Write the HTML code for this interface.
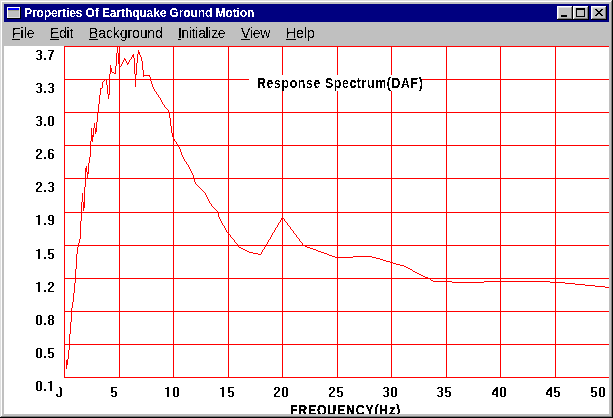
<!DOCTYPE html>
<html><head><meta charset="utf-8">
<style>
html,body{margin:0;padding:0;width:613px;height:418px;overflow:hidden;background:#c0c0c0;}
body{position:relative;font-family:"Liberation Sans",sans-serif;}
.a{position:absolute;}
.t{position:absolute;white-space:nowrap;line-height:1;}
.menu{font-size:14px;color:#000;top:26px;filter:url(#crisp2);}
.menu u{text-decoration:none;border-bottom:1px solid #000;}
.lb{letter-spacing:1.3px;transform:scaleX(0.88);transform-origin:0 0;}
.btn{position:absolute;top:6px;width:16px;height:14px;background:#c0c0c0;}
</style></head><body>
<svg width="0" height="0" style="position:absolute"><filter id="crisp" x="-20%" y="-50%" width="140%" height="200%"><feComponentTransfer><feFuncA type="discrete" tableValues="0 1 1"/></feComponentTransfer></filter><filter id="crisp2" x="-20%" y="-50%" width="140%" height="200%"><feComponentTransfer><feFuncA type="discrete" tableValues="0 1"/></feComponentTransfer></filter><filter id="crisp3" x="-20%" y="-50%" width="140%" height="200%"><feComponentTransfer><feFuncA type="discrete" tableValues="0 1 1 1"/></feComponentTransfer></filter></svg>
<!-- window frame -->
<div class="a" style="left:0;top:0;width:612px;height:1px;background:#dfdfdf"></div>
<div class="a" style="left:0;top:0;width:1px;height:417px;background:#dfdfdf"></div>
<div class="a" style="left:1px;top:1px;width:610px;height:1px;background:#fff"></div>
<div class="a" style="left:1px;top:1px;width:1px;height:415px;background:#fff"></div>
<div class="a" style="left:612px;top:0;width:1px;height:418px;background:#000"></div>
<div class="a" style="left:0;top:417px;width:613px;height:1px;background:#000"></div>
<div class="a" style="left:611px;top:1px;width:1px;height:416px;background:#808080"></div>
<div class="a" style="left:1px;top:416px;width:611px;height:1px;background:#808080"></div>

<!-- title bar -->
<div class="a" style="left:4px;top:4px;width:605px;height:18px;background:#000080"></div>
<!-- icon -->
<div class="a" style="left:7px;top:7px;width:14px;height:12px;background:#000"></div>
<div class="a" style="left:7px;top:7px;width:13px;height:11px;background:#fff"></div>
<div class="a" style="left:8px;top:8px;width:12px;height:10px;background:#dfdfdf"></div>
<div class="a" style="left:8px;top:8px;width:11px;height:9px;background:#c0c0c0"></div>
<div class="a" style="left:8px;top:8px;width:11px;height:2px;background:#0000ff"></div>
<div class="a" style="left:8px;top:10px;width:11px;height:1px;background:#a4a48c"></div>
<div class="t" style="left:24px;top:7px;font-size:12px;font-weight:bold;color:#fff;letter-spacing:-0.1px;filter:url(#crisp2)">Properties Of Earthquake Ground Motion</div>

<!-- caption buttons -->
<div class="btn" style="left:557px;background:#000"></div>
<div class="btn" style="left:557px;width:15px;height:13px;background:#fff"></div>
<div class="btn" style="left:558px;top:7px;width:14px;height:12px;background:#808080"></div>
<div class="btn" style="left:558px;top:7px;width:13px;height:11px;background:#dfdfdf"></div>
<div class="btn" style="left:559px;top:8px;width:12px;height:10px;background:#c0c0c0"></div>
<div class="a" style="left:561px;top:15px;width:6px;height:2px;background:#000"></div>

<div class="btn" style="left:573px;background:#000"></div>
<div class="btn" style="left:573px;width:15px;height:13px;background:#fff"></div>
<div class="btn" style="left:574px;top:7px;width:14px;height:12px;background:#808080"></div>
<div class="btn" style="left:574px;top:7px;width:13px;height:11px;background:#dfdfdf"></div>
<div class="btn" style="left:575px;top:8px;width:12px;height:10px;background:#c0c0c0"></div>
<div class="a" style="left:576px;top:8px;width:7px;height:6px;border:1px solid #000;border-top-width:2px"></div>

<div class="btn" style="left:591px;background:#000"></div>
<div class="btn" style="left:591px;width:15px;height:13px;background:#fff"></div>
<div class="btn" style="left:592px;top:7px;width:14px;height:12px;background:#808080"></div>
<div class="btn" style="left:592px;top:7px;width:13px;height:11px;background:#dfdfdf"></div>
<div class="btn" style="left:593px;top:8px;width:12px;height:10px;background:#c0c0c0"></div>
<svg class="a" style="left:595px;top:9px" width="8" height="7" shape-rendering="crispEdges">
<path d="M0 0h2v1h-2zM6 0h2v1h-2zM1 1h2v1h-2zM5 1h2v1h-2zM2 2h4v1h-4zM3 3h2v1h-2zM2 4h4v1h-4zM1 5h2v1h-2zM5 5h2v1h-2zM0 6h2v1h-2zM6 6h2v1h-2z" fill="#000"/>
</svg>

<!-- menu -->
<div class="t menu" style="left:12px">File</div>
<div class="t menu" style="left:50px;letter-spacing:-0.25px">Edit</div>
<div class="t menu" style="left:89px;letter-spacing:-0.1px">Background</div>
<div class="t menu" style="left:178px;letter-spacing:-0.33px">Initialize</div>
<div class="t menu" style="left:241px;letter-spacing:-0.25px">View</div>
<div class="t menu" style="left:286px">Help</div>
<div class="a" style="left:12px;top:39px;width:8px;height:1px;background:#000"></div>
<div class="a" style="left:50px;top:39px;width:9px;height:1px;background:#000"></div>
<div class="a" style="left:89px;top:39px;width:9px;height:1px;background:#000"></div>
<div class="a" style="left:178px;top:39px;width:3px;height:1px;background:#000"></div>
<div class="a" style="left:241px;top:39px;width:9px;height:1px;background:#000"></div>
<div class="a" style="left:286px;top:39px;width:10px;height:1px;background:#000"></div>

<!-- client -->
<div class="a" style="left:4px;top:46px;width:605px;height:368px;background:#fff;overflow:hidden">
<div class="a" style="left:-4px;top:-46px;width:613px;height:418px">
<svg class="a" style="left:0;top:0" width="613" height="418" shape-rendering="crispEdges">
<g fill="#ff0000">
<rect x="64" y="46" width="1" height="332"/>
<rect x="119" y="46" width="1" height="332"/>
<rect x="173" y="46" width="1" height="332"/>
<rect x="228" y="46" width="1" height="332"/>
<rect x="282" y="46" width="1" height="332"/>
<rect x="337" y="46" width="1" height="332"/>
<rect x="391" y="46" width="1" height="332"/>
<rect x="446" y="46" width="1" height="332"/>
<rect x="500" y="46" width="1" height="332"/>
<rect x="555" y="46" width="1" height="332"/>
<rect x="609" y="46" width="1" height="332"/>
<rect x="64" y="46" width="546" height="1"/>
<rect x="64" y="79" width="546" height="1"/>
<rect x="64" y="112" width="546" height="1"/>
<rect x="64" y="145" width="546" height="1"/>
<rect x="64" y="178" width="546" height="1"/>
<rect x="64" y="212" width="546" height="1"/>
<rect x="64" y="245" width="546" height="1"/>
<rect x="64" y="278" width="546" height="1"/>
<rect x="64" y="311" width="546" height="1"/>
<rect x="64" y="344" width="546" height="1"/>
<rect x="64" y="377" width="546" height="1"/>
</g>
<path id="curve" fill="#ff0000" d="M117 45h1v1h-1zM117 46h1v1h-1zM117 47h1v1h-1zM117 48h1v1h-1zM117 49h1v1h-1zM117 50h1v1h-1zM138 50h1v1h-1zM117 51h1v1h-1zM138 51h1v1h-1zM117 52h1v1h-1zM138 52h2v1h-2zM116 53h1v1h-1zM118 53h1v1h-1zM138 53h2v1h-2zM116 54h1v1h-1zM118 54h1v1h-1zM133 54h1v1h-1zM137 54h1v1h-1zM139 54h1v1h-1zM116 55h1v1h-1zM118 55h1v1h-1zM132 55h2v1h-2zM137 55h1v1h-1zM140 55h1v1h-1zM116 56h1v1h-1zM118 56h1v1h-1zM132 56h2v1h-2zM137 56h1v1h-1zM140 56h1v1h-1zM116 57h1v1h-1zM118 57h1v1h-1zM131 57h1v1h-1zM133 57h1v1h-1zM137 57h1v1h-1zM141 57h1v1h-1zM116 58h1v1h-1zM118 58h1v1h-1zM124 58h1v1h-1zM131 58h1v1h-1zM134 58h1v1h-1zM137 58h1v1h-1zM141 58h1v1h-1zM116 59h1v1h-1zM118 59h1v1h-1zM124 59h2v1h-2zM130 59h1v1h-1zM134 59h1v1h-1zM137 59h1v1h-1zM141 59h1v1h-1zM116 60h1v1h-1zM118 60h1v1h-1zM123 60h1v1h-1zM125 60h1v1h-1zM129 60h1v1h-1zM134 60h1v1h-1zM137 60h1v1h-1zM141 60h1v1h-1zM116 61h1v1h-1zM118 61h1v1h-1zM123 61h1v1h-1zM126 61h1v1h-1zM129 61h1v1h-1zM134 61h1v1h-1zM137 61h1v1h-1zM142 61h1v1h-1zM116 62h1v1h-1zM118 62h1v1h-1zM122 62h1v1h-1zM126 62h1v1h-1zM128 62h1v1h-1zM134 62h1v1h-1zM137 62h1v1h-1zM142 62h1v1h-1zM116 63h1v1h-1zM118 63h1v1h-1zM122 63h1v1h-1zM127 63h2v1h-2zM134 63h1v1h-1zM136 63h1v1h-1zM142 63h1v1h-1zM116 64h1v1h-1zM119 64h1v1h-1zM121 64h1v1h-1zM127 64h1v1h-1zM134 64h1v1h-1zM136 64h1v1h-1zM142 64h1v1h-1zM110 65h1v1h-1zM116 65h1v1h-1zM119 65h1v1h-1zM121 65h1v1h-1zM134 65h1v1h-1zM136 65h1v1h-1zM142 65h1v1h-1zM110 66h1v1h-1zM115 66h1v1h-1zM119 66h2v1h-2zM134 66h1v1h-1zM136 66h1v1h-1zM142 66h1v1h-1zM110 67h1v1h-1zM115 67h1v1h-1zM134 67h1v1h-1zM136 67h1v1h-1zM142 67h1v1h-1zM110 68h2v1h-2zM115 68h1v1h-1zM134 68h1v1h-1zM136 68h1v1h-1zM142 68h1v1h-1zM110 69h2v1h-2zM115 69h1v1h-1zM134 69h1v1h-1zM136 69h1v1h-1zM142 69h1v1h-1zM110 70h2v1h-2zM115 70h1v1h-1zM134 70h1v1h-1zM136 70h1v1h-1zM143 70h1v1h-1zM110 71h2v1h-2zM115 71h1v1h-1zM134 71h1v1h-1zM136 71h1v1h-1zM143 71h1v1h-1zM110 72h1v1h-1zM112 72h2v1h-2zM115 72h1v1h-1zM134 72h1v1h-1zM136 72h1v1h-1zM143 72h1v1h-1zM110 73h1v1h-1zM114 73h2v1h-2zM134 73h1v1h-1zM136 73h1v1h-1zM143 73h1v1h-1zM109 74h1v1h-1zM135 74h2v1h-2zM143 74h1v1h-1zM109 75h1v1h-1zM135 75h1v1h-1zM143 75h7v1h-7zM109 76h1v1h-1zM135 76h1v1h-1zM143 76h1v1h-1zM149 76h1v1h-1zM109 77h1v1h-1zM135 77h1v1h-1zM150 77h1v1h-1zM109 78h1v1h-1zM135 78h1v1h-1zM150 78h1v1h-1zM105 79h1v1h-1zM109 79h1v1h-1zM135 79h1v1h-1zM150 79h1v1h-1zM104 80h1v1h-1zM106 80h1v1h-1zM109 80h1v1h-1zM135 80h1v1h-1zM150 80h1v1h-1zM103 81h1v1h-1zM106 81h1v1h-1zM109 81h1v1h-1zM135 81h1v1h-1zM151 81h1v1h-1zM102 82h1v1h-1zM106 82h1v1h-1zM109 82h1v1h-1zM135 82h1v1h-1zM151 82h1v1h-1zM102 83h1v1h-1zM106 83h1v1h-1zM109 83h1v1h-1zM135 83h1v1h-1zM151 83h1v1h-1zM102 84h1v1h-1zM106 84h1v1h-1zM109 84h1v1h-1zM135 84h1v1h-1zM152 84h1v1h-1zM102 85h1v1h-1zM107 85h1v1h-1zM109 85h1v1h-1zM135 85h1v1h-1zM152 85h1v1h-1zM102 86h1v1h-1zM107 86h1v1h-1zM109 86h1v1h-1zM135 86h1v1h-1zM152 86h1v1h-1zM102 87h1v1h-1zM107 87h1v1h-1zM109 87h1v1h-1zM153 87h1v1h-1zM100 88h2v1h-2zM107 88h1v1h-1zM109 88h1v1h-1zM153 88h1v1h-1zM100 89h1v1h-1zM107 89h1v1h-1zM109 89h1v1h-1zM154 89h1v1h-1zM100 90h1v1h-1zM107 90h1v1h-1zM109 90h1v1h-1zM154 90h1v1h-1zM100 91h1v1h-1zM107 91h1v1h-1zM109 91h1v1h-1zM155 91h1v1h-1zM100 92h1v1h-1zM107 92h1v1h-1zM109 92h1v1h-1zM156 92h1v1h-1zM100 93h1v1h-1zM107 93h1v1h-1zM109 93h1v1h-1zM156 93h1v1h-1zM100 94h1v1h-1zM108 94h2v1h-2zM157 94h1v1h-1zM99 95h1v1h-1zM108 95h1v1h-1zM158 95h1v1h-1zM99 96h1v1h-1zM108 96h1v1h-1zM158 96h1v1h-1zM99 97h1v1h-1zM108 97h1v1h-1zM159 97h1v1h-1zM99 98h1v1h-1zM108 98h1v1h-1zM160 98h1v1h-1zM99 99h1v1h-1zM160 99h1v1h-1zM99 100h1v1h-1zM161 100h1v1h-1zM99 101h1v1h-1zM161 101h1v1h-1zM99 102h1v1h-1zM162 102h1v1h-1zM99 103h1v1h-1zM162 103h1v1h-1zM98 104h1v1h-1zM163 104h1v1h-1zM98 105h1v1h-1zM164 105h1v1h-1zM98 106h1v1h-1zM164 106h1v1h-1zM98 107h1v1h-1zM165 107h1v1h-1zM98 108h1v1h-1zM166 108h1v1h-1zM98 109h1v1h-1zM167 109h1v1h-1zM98 110h1v1h-1zM168 110h1v1h-1zM98 111h1v1h-1zM168 111h1v1h-1zM98 112h1v1h-1zM169 112h1v1h-1zM97 113h1v1h-1zM169 113h1v1h-1zM97 114h1v1h-1zM169 114h1v1h-1zM97 115h1v1h-1zM169 115h1v1h-1zM97 116h1v1h-1zM169 116h1v1h-1zM97 117h1v1h-1zM169 117h1v1h-1zM97 118h1v1h-1zM170 118h1v1h-1zM97 119h1v1h-1zM170 119h1v1h-1zM97 120h1v1h-1zM170 120h1v1h-1zM97 121h1v1h-1zM170 121h1v1h-1zM96 122h1v1h-1zM170 122h1v1h-1zM94 123h1v1h-1zM96 123h1v1h-1zM170 123h1v1h-1zM94 124h1v1h-1zM96 124h1v1h-1zM170 124h1v1h-1zM94 125h1v1h-1zM96 125h1v1h-1zM170 125h1v1h-1zM94 126h1v1h-1zM96 126h1v1h-1zM171 126h1v1h-1zM94 127h1v1h-1zM96 127h1v1h-1zM171 127h1v1h-1zM91 128h1v1h-1zM93 128h1v1h-1zM95 128h2v1h-2zM171 128h1v1h-1zM91 129h1v1h-1zM93 129h1v1h-1zM95 129h2v1h-2zM171 129h1v1h-1zM91 130h1v1h-1zM93 130h1v1h-1zM95 130h2v1h-2zM171 130h1v1h-1zM91 131h1v1h-1zM93 131h1v1h-1zM95 131h2v1h-2zM171 131h1v1h-1zM91 132h1v1h-1zM93 132h1v1h-1zM95 132h1v1h-1zM171 132h1v1h-1zM91 133h1v1h-1zM93 133h1v1h-1zM95 133h1v1h-1zM172 133h1v1h-1zM91 134h1v1h-1zM93 134h1v1h-1zM172 134h1v1h-1zM91 135h3v1h-3zM172 135h1v1h-1zM91 136h3v1h-3zM172 136h1v1h-1zM91 137h2v1h-2zM173 137h1v1h-1zM91 138h2v1h-2zM173 138h1v1h-1zM91 139h2v1h-2zM174 139h1v1h-1zM91 140h2v1h-2zM174 140h1v1h-1zM90 141h1v1h-1zM92 141h1v1h-1zM175 141h1v1h-1zM90 142h1v1h-1zM176 142h1v1h-1zM90 143h1v1h-1zM176 143h1v1h-1zM90 144h1v1h-1zM177 144h1v1h-1zM90 145h1v1h-1zM178 145h1v1h-1zM90 146h1v1h-1zM178 146h1v1h-1zM90 147h1v1h-1zM179 147h1v1h-1zM90 148h1v1h-1zM179 148h1v1h-1zM90 149h1v1h-1zM180 149h1v1h-1zM90 150h1v1h-1zM180 150h1v1h-1zM90 151h1v1h-1zM180 151h1v1h-1zM90 152h1v1h-1zM181 152h1v1h-1zM90 153h1v1h-1zM181 153h1v1h-1zM90 154h1v1h-1zM181 154h1v1h-1zM90 155h1v1h-1zM182 155h1v1h-1zM90 156h1v1h-1zM182 156h1v1h-1zM89 157h1v1h-1zM183 157h1v1h-1zM89 158h1v1h-1zM183 158h1v1h-1zM89 159h1v1h-1zM184 159h1v1h-1zM89 160h1v1h-1zM184 160h1v1h-1zM89 161h1v1h-1zM185 161h1v1h-1zM89 162h1v1h-1zM186 162h1v1h-1zM88 163h1v1h-1zM186 163h1v1h-1zM88 164h1v1h-1zM187 164h1v1h-1zM88 165h1v1h-1zM188 165h1v1h-1zM86 166h1v1h-1zM88 166h1v1h-1zM188 166h1v1h-1zM86 167h1v1h-1zM88 167h1v1h-1zM189 167h1v1h-1zM85 168h2v1h-2zM88 168h1v1h-1zM189 168h1v1h-1zM85 169h2v1h-2zM88 169h1v1h-1zM190 169h1v1h-1zM85 170h2v1h-2zM88 170h1v1h-1zM190 170h1v1h-1zM85 171h2v1h-2zM88 171h1v1h-1zM191 171h1v1h-1zM85 172h1v1h-1zM87 172h2v1h-2zM191 172h1v1h-1zM85 173h1v1h-1zM87 173h2v1h-2zM192 173h1v1h-1zM85 174h1v1h-1zM87 174h1v1h-1zM192 174h1v1h-1zM85 175h1v1h-1zM87 175h1v1h-1zM193 175h1v1h-1zM85 176h1v1h-1zM87 176h1v1h-1zM193 176h1v1h-1zM85 177h1v1h-1zM87 177h1v1h-1zM193 177h1v1h-1zM85 178h1v1h-1zM194 178h1v1h-1zM85 179h1v1h-1zM194 179h1v1h-1zM85 180h1v1h-1zM194 180h1v1h-1zM85 181h1v1h-1zM194 181h1v1h-1zM85 182h1v1h-1zM195 182h1v1h-1zM85 183h1v1h-1zM195 183h1v1h-1zM85 184h1v1h-1zM196 184h1v1h-1zM85 185h1v1h-1zM197 185h1v1h-1zM85 186h1v1h-1zM198 186h1v1h-1zM84 187h1v1h-1zM199 187h1v1h-1zM84 188h1v1h-1zM200 188h1v1h-1zM84 189h1v1h-1zM201 189h1v1h-1zM84 190h1v1h-1zM202 190h1v1h-1zM84 191h1v1h-1zM203 191h1v1h-1zM84 192h1v1h-1zM204 192h1v1h-1zM82 193h1v1h-1zM84 193h1v1h-1zM205 193h1v1h-1zM82 194h1v1h-1zM84 194h1v1h-1zM205 194h1v1h-1zM82 195h1v1h-1zM84 195h1v1h-1zM206 195h1v1h-1zM82 196h1v1h-1zM84 196h1v1h-1zM206 196h1v1h-1zM82 197h1v1h-1zM84 197h1v1h-1zM207 197h1v1h-1zM82 198h1v1h-1zM84 198h1v1h-1zM207 198h1v1h-1zM82 199h1v1h-1zM84 199h1v1h-1zM208 199h1v1h-1zM82 200h1v1h-1zM84 200h1v1h-1zM208 200h1v1h-1zM82 201h1v1h-1zM84 201h1v1h-1zM209 201h1v1h-1zM81 202h1v1h-1zM83 202h2v1h-2zM209 202h1v1h-1zM81 203h1v1h-1zM83 203h2v1h-2zM210 203h1v1h-1zM81 204h1v1h-1zM83 204h2v1h-2zM211 204h1v1h-1zM81 205h1v1h-1zM83 205h2v1h-2zM211 205h1v1h-1zM81 206h1v1h-1zM83 206h2v1h-2zM212 206h1v1h-1zM81 207h1v1h-1zM83 207h2v1h-2zM213 207h1v1h-1zM81 208h1v1h-1zM83 208h1v1h-1zM214 208h1v1h-1zM81 209h1v1h-1zM83 209h1v1h-1zM215 209h1v1h-1zM81 210h1v1h-1zM83 210h1v1h-1zM216 210h1v1h-1zM81 211h1v1h-1zM217 211h1v1h-1zM81 212h1v1h-1zM217 212h1v1h-1zM81 213h1v1h-1zM218 213h1v1h-1zM81 214h1v1h-1zM218 214h1v1h-1zM81 215h1v1h-1zM218 215h1v1h-1zM81 216h1v1h-1zM218 216h1v1h-1zM81 217h1v1h-1zM219 217h1v1h-1zM282 217h1v1h-1zM81 218h1v1h-1zM219 218h1v1h-1zM281 218h1v1h-1zM283 218h1v1h-1zM81 219h1v1h-1zM220 219h1v1h-1zM281 219h1v1h-1zM284 219h1v1h-1zM81 220h1v1h-1zM220 220h1v1h-1zM280 220h1v1h-1zM284 220h1v1h-1zM80 221h1v1h-1zM221 221h1v1h-1zM280 221h1v1h-1zM285 221h1v1h-1zM80 222h1v1h-1zM221 222h1v1h-1zM279 222h1v1h-1zM286 222h1v1h-1zM80 223h1v1h-1zM222 223h1v1h-1zM278 223h1v1h-1zM287 223h1v1h-1zM80 224h1v1h-1zM222 224h1v1h-1zM278 224h1v1h-1zM287 224h1v1h-1zM80 225h1v1h-1zM223 225h1v1h-1zM277 225h1v1h-1zM288 225h1v1h-1zM80 226h1v1h-1zM224 226h1v1h-1zM277 226h1v1h-1zM289 226h1v1h-1zM80 227h1v1h-1zM224 227h1v1h-1zM276 227h1v1h-1zM290 227h1v1h-1zM80 228h1v1h-1zM225 228h1v1h-1zM275 228h1v1h-1zM290 228h1v1h-1zM80 229h1v1h-1zM225 229h1v1h-1zM275 229h1v1h-1zM291 229h1v1h-1zM80 230h1v1h-1zM226 230h1v1h-1zM274 230h1v1h-1zM292 230h1v1h-1zM80 231h1v1h-1zM226 231h1v1h-1zM274 231h1v1h-1zM293 231h1v1h-1zM80 232h1v1h-1zM227 232h1v1h-1zM273 232h1v1h-1zM293 232h1v1h-1zM80 233h1v1h-1zM228 233h1v1h-1zM272 233h1v1h-1zM294 233h1v1h-1zM80 234h1v1h-1zM229 234h1v1h-1zM272 234h1v1h-1zM295 234h1v1h-1zM80 235h1v1h-1zM230 235h1v1h-1zM271 235h1v1h-1zM296 235h1v1h-1zM80 236h1v1h-1zM230 236h1v1h-1zM271 236h1v1h-1zM296 236h1v1h-1zM80 237h1v1h-1zM231 237h1v1h-1zM270 237h1v1h-1zM297 237h1v1h-1zM80 238h1v1h-1zM232 238h1v1h-1zM270 238h1v1h-1zM298 238h1v1h-1zM79 239h1v1h-1zM233 239h1v1h-1zM269 239h1v1h-1zM299 239h1v1h-1zM79 240h1v1h-1zM234 240h1v1h-1zM268 240h1v1h-1zM299 240h1v1h-1zM79 241h1v1h-1zM234 241h1v1h-1zM268 241h1v1h-1zM300 241h1v1h-1zM79 242h1v1h-1zM235 242h1v1h-1zM267 242h1v1h-1zM301 242h1v1h-1zM78 243h1v1h-1zM236 243h1v1h-1zM267 243h1v1h-1zM302 243h1v1h-1zM78 244h1v1h-1zM237 244h1v1h-1zM266 244h1v1h-1zM302 244h1v1h-1zM78 245h1v1h-1zM237 245h1v1h-1zM265 245h1v1h-1zM303 245h2v1h-2zM78 246h1v1h-1zM238 246h1v1h-1zM265 246h1v1h-1zM305 246h2v1h-2zM77 247h1v1h-1zM239 247h2v1h-2zM264 247h1v1h-1zM307 247h3v1h-3zM77 248h1v1h-1zM241 248h2v1h-2zM264 248h1v1h-1zM310 248h3v1h-3zM77 249h1v1h-1zM243 249h2v1h-2zM263 249h1v1h-1zM313 249h3v1h-3zM77 250h1v1h-1zM245 250h2v1h-2zM262 250h1v1h-1zM316 250h2v1h-2zM77 251h1v1h-1zM247 251h2v1h-2zM262 251h1v1h-1zM318 251h3v1h-3zM77 252h1v1h-1zM249 252h4v1h-4zM261 252h1v1h-1zM321 252h3v1h-3zM77 253h1v1h-1zM253 253h5v1h-5zM261 253h1v1h-1zM324 253h3v1h-3zM76 254h1v1h-1zM258 254h3v1h-3zM327 254h2v1h-2zM76 255h1v1h-1zM329 255h3v1h-3zM76 256h1v1h-1zM332 256h3v1h-3zM353 256h19v1h-19zM76 257h1v1h-1zM335 257h18v1h-18zM372 257h4v1h-4zM76 258h1v1h-1zM376 258h4v1h-4zM76 259h1v1h-1zM380 259h3v1h-3zM76 260h1v1h-1zM383 260h3v1h-3zM76 261h1v1h-1zM386 261h4v1h-4zM76 262h1v1h-1zM390 262h3v1h-3zM76 263h1v1h-1zM393 263h3v1h-3zM76 264h1v1h-1zM396 264h4v1h-4zM76 265h1v1h-1zM400 265h4v1h-4zM76 266h1v1h-1zM404 266h2v1h-2zM76 267h1v1h-1zM406 267h2v1h-2zM76 268h1v1h-1zM408 268h2v1h-2zM75 269h1v1h-1zM410 269h2v1h-2zM75 270h1v1h-1zM412 270h1v1h-1zM75 271h1v1h-1zM413 271h2v1h-2zM75 272h1v1h-1zM415 272h2v1h-2zM75 273h1v1h-1zM417 273h2v1h-2zM75 274h1v1h-1zM419 274h2v1h-2zM75 275h1v1h-1zM421 275h2v1h-2zM75 276h1v1h-1zM423 276h2v1h-2zM75 277h1v1h-1zM425 277h3v1h-3zM75 278h1v1h-1zM428 278h2v1h-2zM75 279h1v1h-1zM430 279h1v1h-1zM75 280h1v1h-1zM431 280h2v1h-2zM75 281h1v1h-1zM433 281h19v1h-19zM484 281h66v1h-66zM75 282h1v1h-1zM452 282h32v1h-32zM550 282h15v1h-15zM74 283h1v1h-1zM565 283h10v1h-10zM74 284h1v1h-1zM575 284h10v1h-10zM74 285h1v1h-1zM585 285h10v1h-10zM74 286h1v1h-1zM595 286h10v1h-10zM74 287h1v1h-1zM605 287h6v1h-6zM74 288h1v1h-1zM74 289h1v1h-1zM74 290h1v1h-1zM74 291h1v1h-1zM74 292h1v1h-1zM73 293h1v1h-1zM73 294h1v1h-1zM73 295h1v1h-1zM73 296h1v1h-1zM73 297h1v1h-1zM73 298h1v1h-1zM73 299h1v1h-1zM73 300h1v1h-1zM73 301h1v1h-1zM72 302h1v1h-1zM72 303h1v1h-1zM72 304h1v1h-1zM72 305h1v1h-1zM72 306h1v1h-1zM72 307h1v1h-1zM71 308h1v1h-1zM71 309h1v1h-1zM71 310h1v1h-1zM71 311h1v1h-1zM71 312h1v1h-1zM71 313h1v1h-1zM71 314h1v1h-1zM71 315h1v1h-1zM71 316h1v1h-1zM71 317h1v1h-1zM71 318h1v1h-1zM71 319h1v1h-1zM71 320h1v1h-1zM71 321h1v1h-1zM70 322h1v1h-1zM70 323h1v1h-1zM70 324h1v1h-1zM70 325h1v1h-1zM70 326h1v1h-1zM70 327h1v1h-1zM70 328h1v1h-1zM70 329h1v1h-1zM70 330h1v1h-1zM70 331h1v1h-1zM70 332h1v1h-1zM70 333h1v1h-1zM69 334h1v1h-1zM69 335h1v1h-1zM69 336h1v1h-1zM69 337h1v1h-1zM69 338h1v1h-1zM69 339h1v1h-1zM69 340h1v1h-1zM69 341h1v1h-1zM69 342h1v1h-1zM69 343h1v1h-1zM69 344h1v1h-1zM69 345h1v1h-1zM69 346h1v1h-1zM69 347h1v1h-1zM69 348h1v1h-1zM69 349h1v1h-1zM68 350h1v1h-1zM68 351h1v1h-1zM68 352h1v1h-1zM68 353h1v1h-1zM68 354h1v1h-1zM68 355h1v1h-1zM68 356h1v1h-1zM68 357h1v1h-1zM68 358h1v1h-1zM67 359h1v1h-1zM66 360h2v1h-2zM66 361h2v1h-2zM66 362h2v1h-2zM66 363h2v1h-2zM66 364h2v1h-2zM66 365h1v1h-1zM66 366h1v1h-1zM66 367h1v1h-1zM66 368h1v1h-1z"/>
</svg>
<!-- chart title -->
<div class="a" style="left:249px;top:75px;width:173px;height:16px;background:#fff"></div>
<div class="t" style="left:257px;top:76px;font-size:14px;font-weight:bold;letter-spacing:0.71px;transform:scaleX(0.88);transform-origin:0 0;filter:url(#crisp2)">Response Spectrum(DAF)</div>

<!-- y labels -->
<svg class="a" style="left:0;top:0" width="613" height="418" shape-rendering="crispEdges"><path fill="#000" d="M37 50h4v1h-4zM36 51h2v1h-2zM40 51h2v1h-2zM40 52h2v1h-2zM40 53h2v1h-2zM38 54h3v1h-3zM40 55h2v1h-2zM40 56h2v1h-2zM40 57h2v1h-2zM36 58h2v1h-2zM40 58h2v1h-2zM37 59h4v1h-4zM44 58h2v1h-2zM44 59h2v1h-2zM48 50h6v1h-6zM52 51h2v1h-2zM51 52h2v1h-2zM51 53h2v1h-2zM50 54h2v1h-2zM50 55h2v1h-2zM50 56h2v1h-2zM49 57h2v1h-2zM49 58h2v1h-2zM49 59h2v1h-2zM37 83h4v1h-4zM36 84h2v1h-2zM40 84h2v1h-2zM40 85h2v1h-2zM40 86h2v1h-2zM38 87h3v1h-3zM40 88h2v1h-2zM40 89h2v1h-2zM40 90h2v1h-2zM36 91h2v1h-2zM40 91h2v1h-2zM37 92h4v1h-4zM44 91h2v1h-2zM44 92h2v1h-2zM49 83h4v1h-4zM48 84h2v1h-2zM52 84h2v1h-2zM52 85h2v1h-2zM52 86h2v1h-2zM50 87h3v1h-3zM52 88h2v1h-2zM52 89h2v1h-2zM52 90h2v1h-2zM48 91h2v1h-2zM52 91h2v1h-2zM49 92h4v1h-4zM37 116h4v1h-4zM36 117h2v1h-2zM40 117h2v1h-2zM40 118h2v1h-2zM40 119h2v1h-2zM38 120h3v1h-3zM40 121h2v1h-2zM40 122h2v1h-2zM40 123h2v1h-2zM36 124h2v1h-2zM40 124h2v1h-2zM37 125h4v1h-4zM44 124h2v1h-2zM44 125h2v1h-2zM49 116h4v1h-4zM48 117h2v1h-2zM52 117h2v1h-2zM48 118h2v1h-2zM52 118h2v1h-2zM48 119h2v1h-2zM52 119h2v1h-2zM48 120h2v1h-2zM52 120h2v1h-2zM48 121h2v1h-2zM52 121h2v1h-2zM48 122h2v1h-2zM52 122h2v1h-2zM48 123h2v1h-2zM52 123h2v1h-2zM48 124h2v1h-2zM52 124h2v1h-2zM49 125h4v1h-4zM37 149h4v1h-4zM36 150h2v1h-2zM40 150h2v1h-2zM36 151h2v1h-2zM40 151h2v1h-2zM40 152h2v1h-2zM39 153h2v1h-2zM38 154h2v1h-2zM37 155h2v1h-2zM36 156h2v1h-2zM36 157h2v1h-2zM36 158h6v1h-6zM44 157h2v1h-2zM44 158h2v1h-2zM49 149h4v1h-4zM48 150h2v1h-2zM52 150h2v1h-2zM48 151h2v1h-2zM48 152h2v1h-2zM48 153h5v1h-5zM48 154h2v1h-2zM52 154h2v1h-2zM48 155h2v1h-2zM52 155h2v1h-2zM48 156h2v1h-2zM52 156h2v1h-2zM48 157h2v1h-2zM52 157h2v1h-2zM49 158h4v1h-4zM37 182h4v1h-4zM36 183h2v1h-2zM40 183h2v1h-2zM36 184h2v1h-2zM40 184h2v1h-2zM40 185h2v1h-2zM39 186h2v1h-2zM38 187h2v1h-2zM37 188h2v1h-2zM36 189h2v1h-2zM36 190h2v1h-2zM36 191h6v1h-6zM44 190h2v1h-2zM44 191h2v1h-2zM49 182h4v1h-4zM48 183h2v1h-2zM52 183h2v1h-2zM52 184h2v1h-2zM52 185h2v1h-2zM50 186h3v1h-3zM52 187h2v1h-2zM52 188h2v1h-2zM52 189h2v1h-2zM48 190h2v1h-2zM52 190h2v1h-2zM49 191h4v1h-4zM38 215h2v1h-2zM36 216h4v1h-4zM38 217h2v1h-2zM38 218h2v1h-2zM38 219h2v1h-2zM38 220h2v1h-2zM38 221h2v1h-2zM38 222h2v1h-2zM38 223h2v1h-2zM38 224h2v1h-2zM44 223h2v1h-2zM44 224h2v1h-2zM49 215h4v1h-4zM48 216h2v1h-2zM52 216h2v1h-2zM48 217h2v1h-2zM52 217h2v1h-2zM48 218h2v1h-2zM52 218h2v1h-2zM48 219h2v1h-2zM52 219h2v1h-2zM49 220h5v1h-5zM52 221h2v1h-2zM52 222h2v1h-2zM48 223h2v1h-2zM52 223h2v1h-2zM49 224h4v1h-4zM38 249h2v1h-2zM36 250h4v1h-4zM38 251h2v1h-2zM38 252h2v1h-2zM38 253h2v1h-2zM38 254h2v1h-2zM38 255h2v1h-2zM38 256h2v1h-2zM38 257h2v1h-2zM38 258h2v1h-2zM44 257h2v1h-2zM44 258h2v1h-2zM48 249h6v1h-6zM48 250h2v1h-2zM48 251h2v1h-2zM48 252h2v1h-2zM48 253h5v1h-5zM48 254h2v1h-2zM52 254h2v1h-2zM52 255h2v1h-2zM52 256h2v1h-2zM48 257h2v1h-2zM52 257h2v1h-2zM49 258h4v1h-4zM38 282h2v1h-2zM36 283h4v1h-4zM38 284h2v1h-2zM38 285h2v1h-2zM38 286h2v1h-2zM38 287h2v1h-2zM38 288h2v1h-2zM38 289h2v1h-2zM38 290h2v1h-2zM38 291h2v1h-2zM44 290h2v1h-2zM44 291h2v1h-2zM49 282h4v1h-4zM48 283h2v1h-2zM52 283h2v1h-2zM48 284h2v1h-2zM52 284h2v1h-2zM52 285h2v1h-2zM51 286h2v1h-2zM50 287h2v1h-2zM49 288h2v1h-2zM48 289h2v1h-2zM48 290h2v1h-2zM48 291h6v1h-6zM37 315h4v1h-4zM36 316h2v1h-2zM40 316h2v1h-2zM36 317h2v1h-2zM40 317h2v1h-2zM36 318h2v1h-2zM40 318h2v1h-2zM36 319h2v1h-2zM40 319h2v1h-2zM36 320h2v1h-2zM40 320h2v1h-2zM36 321h2v1h-2zM40 321h2v1h-2zM36 322h2v1h-2zM40 322h2v1h-2zM36 323h2v1h-2zM40 323h2v1h-2zM37 324h4v1h-4zM44 323h2v1h-2zM44 324h2v1h-2zM49 315h4v1h-4zM48 316h2v1h-2zM52 316h2v1h-2zM48 317h2v1h-2zM52 317h2v1h-2zM48 318h2v1h-2zM52 318h2v1h-2zM49 319h4v1h-4zM48 320h2v1h-2zM52 320h2v1h-2zM48 321h2v1h-2zM52 321h2v1h-2zM48 322h2v1h-2zM52 322h2v1h-2zM48 323h2v1h-2zM52 323h2v1h-2zM49 324h4v1h-4zM37 348h4v1h-4zM36 349h2v1h-2zM40 349h2v1h-2zM36 350h2v1h-2zM40 350h2v1h-2zM36 351h2v1h-2zM40 351h2v1h-2zM36 352h2v1h-2zM40 352h2v1h-2zM36 353h2v1h-2zM40 353h2v1h-2zM36 354h2v1h-2zM40 354h2v1h-2zM36 355h2v1h-2zM40 355h2v1h-2zM36 356h2v1h-2zM40 356h2v1h-2zM37 357h4v1h-4zM44 356h2v1h-2zM44 357h2v1h-2zM48 348h6v1h-6zM48 349h2v1h-2zM48 350h2v1h-2zM48 351h2v1h-2zM48 352h5v1h-5zM48 353h2v1h-2zM52 353h2v1h-2zM52 354h2v1h-2zM52 355h2v1h-2zM48 356h2v1h-2zM52 356h2v1h-2zM49 357h4v1h-4zM37 381h4v1h-4zM36 382h2v1h-2zM40 382h2v1h-2zM36 383h2v1h-2zM40 383h2v1h-2zM36 384h2v1h-2zM40 384h2v1h-2zM36 385h2v1h-2zM40 385h2v1h-2zM36 386h2v1h-2zM40 386h2v1h-2zM36 387h2v1h-2zM40 387h2v1h-2zM36 388h2v1h-2zM40 388h2v1h-2zM36 389h2v1h-2zM40 389h2v1h-2zM37 390h4v1h-4zM44 389h2v1h-2zM44 390h2v1h-2zM50 381h2v1h-2zM48 382h4v1h-4zM50 383h2v1h-2zM50 384h2v1h-2zM50 385h2v1h-2zM50 386h2v1h-2zM50 387h2v1h-2zM50 388h2v1h-2zM50 389h2v1h-2zM50 390h2v1h-2zM59 387h2v1h-2zM60 388h2v1h-2zM60 389h2v1h-2zM60 390h2v1h-2zM60 391h2v1h-2zM60 392h2v1h-2zM60 393h2v1h-2zM56 394h2v1h-2zM60 394h2v1h-2zM56 395h2v1h-2zM60 395h2v1h-2zM57 396h4v1h-4zM111 387h6v1h-6zM111 388h2v1h-2zM111 389h2v1h-2zM111 390h2v1h-2zM111 391h5v1h-5zM111 392h2v1h-2zM115 392h2v1h-2zM115 393h2v1h-2zM115 394h2v1h-2zM111 395h2v1h-2zM115 395h2v1h-2zM112 396h4v1h-4zM167 387h2v1h-2zM165 388h4v1h-4zM167 389h2v1h-2zM167 390h2v1h-2zM167 391h2v1h-2zM167 392h2v1h-2zM167 393h2v1h-2zM167 394h2v1h-2zM167 395h2v1h-2zM167 396h2v1h-2zM174 387h4v1h-4zM173 388h2v1h-2zM177 388h2v1h-2zM173 389h2v1h-2zM177 389h2v1h-2zM173 390h2v1h-2zM177 390h2v1h-2zM173 391h2v1h-2zM177 391h2v1h-2zM173 392h2v1h-2zM177 392h2v1h-2zM173 393h2v1h-2zM177 393h2v1h-2zM173 394h2v1h-2zM177 394h2v1h-2zM173 395h2v1h-2zM177 395h2v1h-2zM174 396h4v1h-4zM222 387h2v1h-2zM220 388h4v1h-4zM222 389h2v1h-2zM222 390h2v1h-2zM222 391h2v1h-2zM222 392h2v1h-2zM222 393h2v1h-2zM222 394h2v1h-2zM222 395h2v1h-2zM222 396h2v1h-2zM228 387h6v1h-6zM228 388h2v1h-2zM228 389h2v1h-2zM228 390h2v1h-2zM228 391h5v1h-5zM228 392h2v1h-2zM232 392h2v1h-2zM232 393h2v1h-2zM232 394h2v1h-2zM228 395h2v1h-2zM232 395h2v1h-2zM229 396h4v1h-4zM275 387h4v1h-4zM274 388h2v1h-2zM278 388h2v1h-2zM274 389h2v1h-2zM278 389h2v1h-2zM278 390h2v1h-2zM277 391h2v1h-2zM276 392h2v1h-2zM275 393h2v1h-2zM274 394h2v1h-2zM274 395h2v1h-2zM274 396h6v1h-6zM283 387h4v1h-4zM282 388h2v1h-2zM286 388h2v1h-2zM282 389h2v1h-2zM286 389h2v1h-2zM282 390h2v1h-2zM286 390h2v1h-2zM282 391h2v1h-2zM286 391h2v1h-2zM282 392h2v1h-2zM286 392h2v1h-2zM282 393h2v1h-2zM286 393h2v1h-2zM282 394h2v1h-2zM286 394h2v1h-2zM282 395h2v1h-2zM286 395h2v1h-2zM283 396h4v1h-4zM330 387h4v1h-4zM329 388h2v1h-2zM333 388h2v1h-2zM329 389h2v1h-2zM333 389h2v1h-2zM333 390h2v1h-2zM332 391h2v1h-2zM331 392h2v1h-2zM330 393h2v1h-2zM329 394h2v1h-2zM329 395h2v1h-2zM329 396h6v1h-6zM337 387h6v1h-6zM337 388h2v1h-2zM337 389h2v1h-2zM337 390h2v1h-2zM337 391h5v1h-5zM337 392h2v1h-2zM341 392h2v1h-2zM341 393h2v1h-2zM341 394h2v1h-2zM337 395h2v1h-2zM341 395h2v1h-2zM338 396h4v1h-4zM384 387h4v1h-4zM383 388h2v1h-2zM387 388h2v1h-2zM387 389h2v1h-2zM387 390h2v1h-2zM385 391h3v1h-3zM387 392h2v1h-2zM387 393h2v1h-2zM387 394h2v1h-2zM383 395h2v1h-2zM387 395h2v1h-2zM384 396h4v1h-4zM392 387h4v1h-4zM391 388h2v1h-2zM395 388h2v1h-2zM391 389h2v1h-2zM395 389h2v1h-2zM391 390h2v1h-2zM395 390h2v1h-2zM391 391h2v1h-2zM395 391h2v1h-2zM391 392h2v1h-2zM395 392h2v1h-2zM391 393h2v1h-2zM395 393h2v1h-2zM391 394h2v1h-2zM395 394h2v1h-2zM391 395h2v1h-2zM395 395h2v1h-2zM392 396h4v1h-4zM438 387h4v1h-4zM437 388h2v1h-2zM441 388h2v1h-2zM441 389h2v1h-2zM441 390h2v1h-2zM439 391h3v1h-3zM441 392h2v1h-2zM441 393h2v1h-2zM441 394h2v1h-2zM437 395h2v1h-2zM441 395h2v1h-2zM438 396h4v1h-4zM445 387h6v1h-6zM445 388h2v1h-2zM445 389h2v1h-2zM445 390h2v1h-2zM445 391h5v1h-5zM445 392h2v1h-2zM449 392h2v1h-2zM449 393h2v1h-2zM449 394h2v1h-2zM445 395h2v1h-2zM449 395h2v1h-2zM446 396h4v1h-4zM496 387h2v1h-2zM495 388h3v1h-3zM494 389h4v1h-4zM493 390h5v1h-5zM493 391h2v1h-2zM496 391h2v1h-2zM492 392h2v1h-2zM496 392h2v1h-2zM492 393h2v1h-2zM496 393h2v1h-2zM492 394h6v1h-6zM496 395h2v1h-2zM496 396h2v1h-2zM501 387h4v1h-4zM500 388h2v1h-2zM504 388h2v1h-2zM500 389h2v1h-2zM504 389h2v1h-2zM500 390h2v1h-2zM504 390h2v1h-2zM500 391h2v1h-2zM504 391h2v1h-2zM500 392h2v1h-2zM504 392h2v1h-2zM500 393h2v1h-2zM504 393h2v1h-2zM500 394h2v1h-2zM504 394h2v1h-2zM500 395h2v1h-2zM504 395h2v1h-2zM501 396h4v1h-4zM550 387h2v1h-2zM549 388h3v1h-3zM548 389h4v1h-4zM547 390h5v1h-5zM547 391h2v1h-2zM550 391h2v1h-2zM546 392h2v1h-2zM550 392h2v1h-2zM546 393h2v1h-2zM550 393h2v1h-2zM546 394h6v1h-6zM550 395h2v1h-2zM550 396h2v1h-2zM554 387h6v1h-6zM554 388h2v1h-2zM554 389h2v1h-2zM554 390h2v1h-2zM554 391h5v1h-5zM554 392h2v1h-2zM558 392h2v1h-2zM558 393h2v1h-2zM558 394h2v1h-2zM554 395h2v1h-2zM558 395h2v1h-2zM555 396h4v1h-4zM591 387h6v1h-6zM591 388h2v1h-2zM591 389h2v1h-2zM591 390h2v1h-2zM591 391h5v1h-5zM591 392h2v1h-2zM595 392h2v1h-2zM595 393h2v1h-2zM595 394h2v1h-2zM591 395h2v1h-2zM595 395h2v1h-2zM592 396h4v1h-4zM600 387h4v1h-4zM599 388h2v1h-2zM603 388h2v1h-2zM599 389h2v1h-2zM603 389h2v1h-2zM599 390h2v1h-2zM603 390h2v1h-2zM599 391h2v1h-2zM603 391h2v1h-2zM599 392h2v1h-2zM603 392h2v1h-2zM599 393h2v1h-2zM603 393h2v1h-2zM599 394h2v1h-2zM603 394h2v1h-2zM599 395h2v1h-2zM603 395h2v1h-2zM600 396h4v1h-4z"/></svg>

<div style="position:absolute;left:0;top:0;width:613px;height:418px;font-size:14px;font-weight:bold;color:#000;filter:url(#crisp)">
<div class="t" style="left:290px;top:403px;letter-spacing:0.89px;transform:scaleX(0.88);transform-origin:0 0">FREQUENCY(Hz)</div>
</div>
</div>
</div>
</body></html>
